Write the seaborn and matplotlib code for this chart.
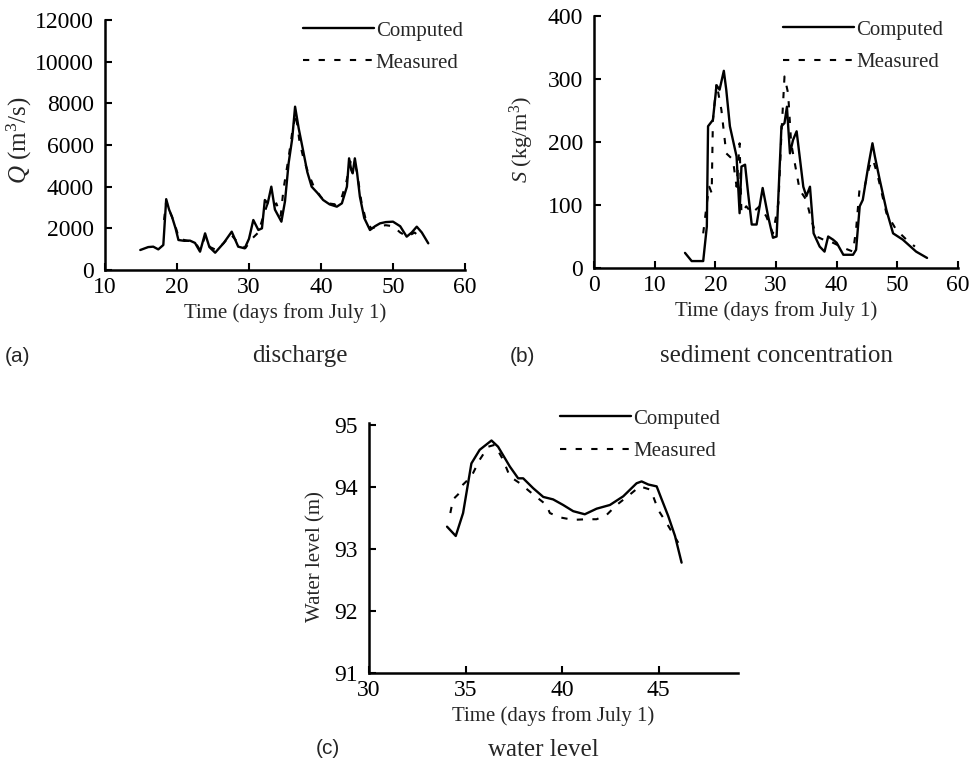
import numpy as np
import pandas as pd
import matplotlib
matplotlib.use("Agg")
import matplotlib.pyplot as plt
import seaborn as sns

# ---------------- data ----------------
# (a) discharge
a_comp_day = [14.9, 16.0, 16.7, 17.4, 18.1, 18.5, 18.9, 19.3, 19.8, 20.2, 21.0, 21.8, 22.5, 23.2, 23.9, 24.5,
              25.3, 26.5, 27.6, 28.5, 29.4, 30.0, 30.6, 31.3, 31.8, 32.2, 32.6, 33.1, 33.6, 34.5, 35.0,
              35.5, 36.0, 36.4, 36.9, 37.5, 38.1, 38.7, 39.5, 40.3, 41.2, 42.2, 42.9, 43.6, 43.9, 44.2,
              44.4, 44.7, 45.0, 45.4, 46.0, 46.8, 47.5, 48.2, 49.0, 50.0, 51.0, 51.9, 52.6, 53.3, 54.0, 54.9]
a_comp_val = [960, 1100, 1120, 990, 1200, 3400, 2900, 2560, 2000, 1440, 1400, 1410, 1300, 880, 1760, 1100,
              830, 1300, 1840, 1120, 1040, 1500, 2400, 1920, 2000, 3360, 3200, 4000, 2900, 2320, 3300,
              5120, 6300, 7840, 6800, 5760, 4700, 4000, 3700, 3360, 3150, 3040, 3200, 4000, 5360, 4800,
              4640, 5360, 4700, 3520, 2500, 1920, 2100, 2240, 2300, 2320, 2100, 1600, 1800, 2080, 1800, 1280]
a_meas_day = [18.2, 18.5, 19.0, 19.6, 20.3, 21.5, 22.5, 23.2, 23.9, 24.6, 25.5, 26.5, 27.5, 28.5, 29.5,
              30.4, 31.3, 32.0, 32.6, 33.2, 33.8, 34.4, 34.8, 35.5, 36.0, 36.5, 37.0, 37.6, 38.3, 39.0,
              40.0, 41.0, 42.0, 42.8, 43.5, 44.1, 44.5, 45.0, 45.6, 46.3, 47.0, 48.0, 49.0, 50.0, 51.0,
              52.0, 53.0, 54.0]
a_meas_val = [2400, 3300, 2800, 2300, 1500, 1400, 1350, 950, 1600, 1100, 950, 1300, 1700, 1300, 1050,
              1500, 1800, 2600, 3200, 3000, 3200, 2600, 3900, 5400, 6600, 7500, 6200, 5300, 4600, 4000,
              3500, 3200, 3150, 3400, 4200, 5200, 5300, 4700, 3300, 2300, 2000, 2100, 2150, 2100, 1800,
              1600, 1800, 1500]

# (b) sediment concentration
b_comp_day = [15.0, 16.1, 18.0, 18.6, 18.8, 19.6, 20.2, 20.7, 21.4, 21.8, 22.4, 23.5, 24.0, 24.3, 24.9,
              25.4, 26.0, 26.8, 27.8, 28.7, 29.5, 30.1, 30.9, 31.4, 31.8, 32.3, 32.8, 33.4, 34.5, 35.0,
              35.6, 36.2, 37.2, 38.0, 38.6, 39.4, 40.0, 41.1, 42.7, 43.2, 43.8, 44.3, 45.2, 45.9, 46.3,
              47.1, 48.2, 49.3, 50.9, 53.1, 54.9]
b_comp_val = [24, 11, 11, 66, 225, 235, 290, 283, 313, 283, 225, 177, 87, 161, 164,
              119, 69, 69, 127, 82, 48, 50, 225, 230, 256, 182, 203, 217, 129, 114,
              129, 55, 34, 26, 50, 45, 40, 21, 21, 29, 98, 108, 161, 198, 177,
              140, 92, 55, 45, 26, 16]
b_meas_day = [18.0, 18.6, 19.0, 19.4, 19.6, 20.2, 21.0, 21.8, 22.9, 23.5, 24.0, 24.3, 25.1, 26.0, 27.3,
              28.4, 29.5, 30.4, 30.9, 31.4, 32.0, 32.5, 33.9, 35.0, 35.8, 36.7, 37.8, 39.4, 41.1, 42.7,
              43.2, 43.8, 44.6, 45.4, 46.0, 46.8, 48.2, 49.8, 51.5, 52.9]
b_meas_val = [55, 103, 129, 119, 235, 293, 251, 182, 172, 129, 198, 87, 98, 87, 98,
              82, 55, 103, 214, 304, 277, 198, 124, 108, 77, 50, 45, 40, 32, 26,
              61, 129, 129, 161, 172, 145, 87, 61, 45, 34]

# (c) water level
c_comp_day = [34.04, 34.49, 34.87, 35.30, 35.73, 36.34, 36.68, 37.29, 37.72, 37.98, 38.50, 39.02, 39.53,
              40.05, 40.57, 41.17, 41.78, 42.47, 43.16, 43.85, 44.11, 44.46, 44.89, 45.15, 45.49, 45.84, 46.18]
c_comp_val = [93.36, 93.21, 93.58, 94.38, 94.60, 94.75, 94.65, 94.33, 94.14, 94.14, 93.98, 93.84, 93.80,
              93.71, 93.61, 93.56, 93.65, 93.71, 93.85, 94.06, 94.09, 94.04, 94.01, 93.80, 93.53, 93.21, 92.78]
c_meas_day = [34.21, 34.35, 34.61, 34.87, 35.30, 35.73, 36.17, 36.51, 36.94, 37.29, 37.81, 38.50, 39.19,
              39.36, 39.88, 40.57, 41.26, 41.78, 42.30, 42.82, 43.51, 44.02, 44.54, 44.71, 44.97, 45.40, 46.01]
c_meas_val = [93.58, 93.80, 93.88, 94.04, 94.17, 94.44, 94.65, 94.68, 94.44, 94.17, 94.06, 93.88, 93.71,
              93.58, 93.51, 93.47, 93.48, 93.48, 93.55, 93.71, 93.88, 94.01, 93.96, 93.85, 93.63, 93.42, 93.10]

series_labels = ["Computed", "Measured"]

# ---------------- style ----------------
sns.set_style("ticks")
plt.rcParams["font.family"] = ["Liberation Serif", "DejaVu Serif"]
plt.rcParams["mathtext.fontset"] = "custom"
plt.rcParams["mathtext.rm"] = "Liberation Serif"
plt.rcParams["mathtext.it"] = "Liberation Serif:italic"

W, H = 971, 765
fig = plt.figure(figsize=(W / 100, H / 100), dpi=100)


def add_axes(l, r, t, b):
    return fig.add_axes([l / W, 1 - b / H, (r - l) / W, (b - t) / H])


ax_a = add_axes(105, 465, 20, 270)
ax_b = add_axes(594, 958, 16, 268)
ax_c = add_axes(369, 738, 425, 673)

FS = 15
TFS = 17
DASH = (0, (3, 4.5))


def draw(ax, cd, cv, md, mv):
    dfc = pd.DataFrame({"day": cd, "val": cv})
    dfm = pd.DataFrame({"day": md, "val": mv})
    sns.lineplot(data=dfc, x="day", y="val", ax=ax, color="black", lw=1.7,
                 estimator=None, sort=False, label=series_labels[0])
    sns.lineplot(data=dfm, x="day", y="val", ax=ax, color="black", lw=1.5,
                 estimator=None, sort=False, label=series_labels[1], linestyle=DASH)
    for s in ["top", "right"]:
        ax.spines[s].set_visible(False)
    for s in ["left", "bottom"]:
        ax.spines[s].set_linewidth(1.8)
        ax.spines[s].set_color("black")
    ax.tick_params(direction="in", length=5, width=1.5, labelsize=TFS, colors="black")
    ax.tick_params(axis="x", pad=5)
    ax.tick_params(axis="y", pad=8)
    ax.set_xlabel("Time (days from July 1)", fontsize=FS, labelpad=4)


draw(ax_a, a_comp_day, a_comp_val, a_meas_day, a_meas_val)
draw(ax_b, b_comp_day, b_comp_val, b_meas_day, b_meas_val)
draw(ax_c, c_comp_day, c_comp_val, c_meas_day, c_meas_val)

ax_a.set_xlim(10, 60)
ax_a.set_ylim(0, 12000)
ax_a.set_xticks([10, 20, 30, 40, 50, 60])
ax_a.set_yticks(range(0, 12001, 2000))
ax_a.set_ylabel(r"$Q$ (m$^3$/s)", fontsize=18)
ax_a.yaxis.set_label_coords(-0.197, 0.52)

ax_b.set_xlim(0, 60)
ax_b.set_ylim(0, 400)
ax_b.set_xticks(range(0, 61, 10))
ax_b.set_yticks(range(0, 401, 100))
ax_b.set_ylabel(r"$S$ (kg/m$^3$)", fontsize=16)
ax_b.yaxis.set_label_coords(-0.159, 0.51)

ax_c.set_xlim(30, 49.1)
ax_c.set_ylim(91, 95)
ax_c.set_xticks([30, 35, 40, 45])
ax_c.set_yticks([91, 92, 93, 94, 95])
ax_c.set_ylabel("Water level (m)", fontsize=FS)
ax_c.yaxis.set_label_coords(-0.119, 0.47)
ax_c.spines["left"].set_bounds(91, 95.03)


def legend(ax, x, y, sp):
    ax.legend(loc="upper right", bbox_to_anchor=(x, y), frameon=False, fontsize=FS,
              handlelength=3.4, handletextpad=0.1, borderpad=0, borderaxespad=0,
              labelspacing=sp)


legend(ax_a, 0.994, 0.996, 0.6)
legend(ax_b, 0.959, 0.984, 0.62)
legend(ax_c, 0.951, 1.064, 0.62)

sans = ["Liberation Sans", "DejaVu Sans"]
fig.text(5 / W, 1 - 356 / H, "(a)", family=sans, fontsize=FS, va="center", ha="left")
fig.text(300 / W, 1 - 356 / H, "discharge", fontsize=18, va="center", ha="center")
fig.text(510 / W, 1 - 356 / H, "(b)", family=sans, fontsize=FS, va="center", ha="left")
fig.text(776 / W, 1 - 356 / H, "sediment concentration", fontsize=18, va="center", ha="center")
fig.text(316 / W, 1 - 748 / H, "(c)", family=sans, fontsize=FS, va="center", ha="left")
fig.text(543 / W, 1 - 750 / H, "water level", fontsize=18, va="center", ha="center")

fig.savefig("out.png", dpi=100, facecolor="white")
